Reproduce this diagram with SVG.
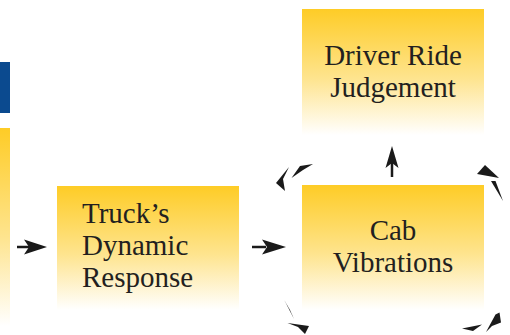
<svg xmlns="http://www.w3.org/2000/svg" width="510" height="335" viewBox="0 0 510 335">
<style>
text{font-family:"Liberation Serif","Times New Roman",serif;font-size:29px;fill:#231f20}
.c{text-anchor:middle}
.a{fill:#1a1a1a}
</style>
<defs>
<linearGradient id="g" x1="0" y1="0" x2="0" y2="1">
<stop offset="0" stop-color="#FECC26"/>
<stop offset="0.55" stop-color="#FEE48E"/>
<stop offset="1" stop-color="#FFFFFF"/>
</linearGradient>
</defs>
<rect width="510" height="335" fill="#ffffff"/>
<g id="side">
<rect x="0" y="62" width="10" height="51" fill="#0B4A8F"/>
<rect x="0" y="128" width="10" height="198" fill="url(#g)"/>
</g>
<g id="driver">
<rect x="302" y="9" width="182" height="126" fill="url(#g)"/>
<text class="c" x="393" y="65" font-family="Liberation Serif, serif">Driver Ride</text>
<text class="c" x="393" y="97" font-family="Liberation Serif, serif">Judgement</text>
</g>
<g id="truck">
<rect x="57" y="186" width="182" height="124" fill="url(#g)"/>
<text x="82" y="223" font-family="Liberation Serif, serif">Truck’s</text>
<text x="82" y="255" font-family="Liberation Serif, serif">Dynamic</text>
<text x="82" y="287" font-family="Liberation Serif, serif">Response</text>
</g>
<g id="cab">
<rect x="302" y="185" width="182" height="125" fill="url(#g)"/>
<text class="c" x="393" y="240" font-family="Liberation Serif, serif">Cab</text>
<text class="c" x="393" y="272" font-family="Liberation Serif, serif">Vibrations</text>
</g>
<g id="connectors">
<line x1="17" y1="247" x2="30" y2="247" stroke="#1a1a1a" stroke-width="2.5"/>
<polygon class="a" points="47,247 24,239.5 29,247 24,254.5"/>
<line x1="252" y1="247" x2="266" y2="247" stroke="#1a1a1a" stroke-width="2.5"/>
<polygon class="a" points="286,247 262,239.5 267,247 262,254.5"/>
<line x1="392" y1="177" x2="392" y2="162" stroke="#1a1a1a" stroke-width="2.5"/>
<polygon class="a" points="392,146 385.5,168 392,163 398.5,168"/>
<polygon class="a" points="289,167 276,183 285,191 283,179"/>
<polygon class="a" points="291.5,178 300,166 313,164 303,170"/>
<polygon class="a" points="485,165 477,174 499,178"/>
<polygon class="a" points="491,181 495.5,181 503,201"/>
<polygon class="a" points="284.5,300.5 294,319 290,310"/>
<polygon class="a" points="287.5,323 309,326 305,334 298,327"/>
<polygon class="a" points="462,328.5 482,324.5 473,331"/>
<polygon class="a" points="486,332 495.5,314.5 499.5,312.5 501,322.5 492,326"/>
</g>
</svg>
